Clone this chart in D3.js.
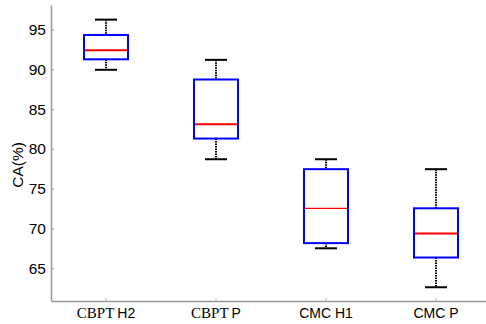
<!DOCTYPE html>
<html lang="en">
<head>
    <meta charset="UTF-8">
    <title>CA box plot</title>
    <script src="https://d3js.org/d3.v7.min.js"></script>
    <style>
        body { margin: 0; background: #fff; }
        .tick text { font-family: Arial, "Liberation Sans", sans-serif; }
    </style>
</head>
<body>
    <div id="chart"></div>
    <script>
        // categories and box statistics
        const categories = ["CBPT H2", "CBPT P", "CMC H1", "CMC P"];
        const labelSerif = ["CBPT", "CBPT", "", ""];
        const labelSans = ["H2", "P", "CMC H1", "CMC P"];
        const whiskerLow = [89.95, 78.7, 67.5, 62.6];
        const q1 = [91.27, 81.3, 68.15, 66.34];
        const median = [92.4, 83.1, 72.53, 69.35];
        const q3 = [94.33, 88.73, 77.45, 72.53];
        const whiskerHigh = [96.26, 91.2, 78.7, 77.45];
        const yTicks = [65, 70, 75, 80, 85, 90, 95];

        const W = 486, H = 324;
        const marginLeft = 51, axisBottom = 301, axisTop = 5;

        const svg = d3.select("#chart").append("svg")
            .attr("width", W)
            .attr("height", H);

        const x = d3.scaleBand()
            .domain(categories)
            .range([marginLeft, 491])
            .padding(0);

        const y = d3.scaleLinear()
            .domain([60.87, 98.1])
            .range([axisBottom, axisTop]);

        // axes
        const yAxis = svg.append("g")
            .attr("transform", `translate(${marginLeft},0)`)
            .call(d3.axisLeft(y).tickValues(yTicks).tickSizeInner(-3).tickSizeOuter(0).tickPadding(5));
        yAxis.select(".domain").attr("stroke", "#999").attr("stroke-width", 1.5);
        yAxis.selectAll(".tick line").attr("stroke", "#999");
        yAxis.selectAll(".tick text").attr("font-size", 15.5).attr("fill", "#000");

        const xAxis = svg.append("g")
            .attr("transform", `translate(0,${axisBottom})`)
            .call(d3.axisBottom(x).tickSizeInner(-3).tickSizeOuter(0).tickFormat(""));
        xAxis.select(".domain").attr("stroke", "#999").attr("stroke-width", 1.5);
        xAxis.selectAll(".tick line").attr("stroke", "#bbb");

        // x labels: mixed serif / sans as in the original
        const xl = svg.append("g").selectAll("text")
            .data(categories)
            .join("text")
            .attr("x", d => x(d) + x.bandwidth() / 2)
            .attr("y", 318)
            .attr("text-anchor", "middle")
            .attr("fill", "#000");
        xl.append("tspan")
            .attr("font-family", "'Liberation Serif', 'DejaVu Serif', serif")
            .attr("font-size", 15)
            .text((d, i) => labelSerif[i]);
        xl.append("tspan")
            .attr("dx", (d, i) => labelSerif[i] ? 3 : 0)
            .attr("font-family", "Arial, 'Liberation Sans', sans-serif")
            .attr("font-size", 14)
            .text((d, i) => labelSans[i]);

        // y label
        svg.append("text")
            .attr("transform", `translate(23,165) rotate(-90)`)
            .attr("text-anchor", "middle")
            .attr("font-family", "Arial, 'Liberation Sans', sans-serif")
            .attr("font-size", 15.5)
            .text("CA(%)");

        const boxW = 44, capW = 22;
        const g = svg.append("g");
        const cx = i => x(categories[i]) + x.bandwidth() / 2;

        categories.forEach((c, i) => {
            // whiskers
            g.append("line")
                .attr("x1", cx(i)).attr("x2", cx(i))
                .attr("y1", y(whiskerHigh[i])).attr("y2", y(q3[i]))
                .attr("stroke", "#000").attr("stroke-width", 2)
                .attr("stroke-dasharray", "1.5,1");
            g.append("line")
                .attr("x1", cx(i)).attr("x2", cx(i))
                .attr("y1", y(q1[i])).attr("y2", y(whiskerLow[i]))
                .attr("stroke", "#000").attr("stroke-width", 2)
                .attr("stroke-dasharray", "1.5,1");
            // caps
            [whiskerHigh[i], whiskerLow[i]].forEach(v => {
                g.append("line")
                    .attr("x1", cx(i) - capW / 2).attr("x2", cx(i) + capW / 2)
                    .attr("y1", y(v)).attr("y2", y(v))
                    .attr("stroke", "#000").attr("stroke-width", 2);
            });
            // box
            g.append("rect")
                .attr("x", cx(i) - boxW / 2)
                .attr("y", y(q3[i]))
                .attr("width", boxW)
                .attr("height", y(q1[i]) - y(q3[i]))
                .attr("fill", "#fff")
                .attr("stroke", "#0000ff")
                .attr("stroke-width", 2);
            // median
            g.append("line")
                .attr("x1", cx(i) - boxW / 2 + 1).attr("x2", cx(i) + boxW / 2 - 1)
                .attr("y1", y(median[i])).attr("y2", y(median[i]))
                .attr("stroke", "#ff0000")
                .attr("stroke-width", i === 2 ? 1.2 : 2);
        });
    </script>
</body>
</html>
